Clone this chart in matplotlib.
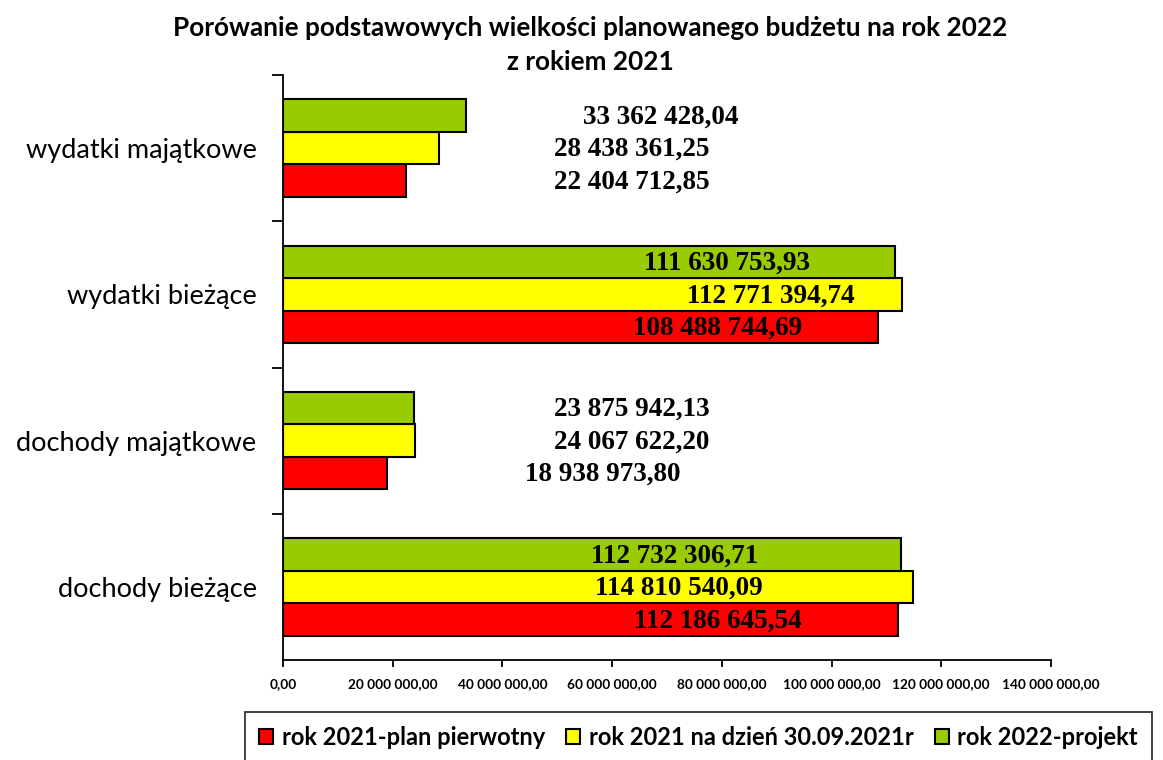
import matplotlib
matplotlib.use("Agg")
import matplotlib.pyplot as plt
from matplotlib.patches import Patch
import numpy as np

categories = ["dochody bieżące", "dochody majątkowe", "wydatki bieżące", "wydatki majątkowe"]
series_names = ["rok 2021-plan pierwotny", "rok 2021 na dzień 30.09.2021r", "rok 2022-projekt"]
plan_2021 = [112186645.54, 18938973.80, 108488744.69, 22404712.85]
stan_2021 = [114810540.09, 24067622.20, 112771394.74, 28438361.25]
projekt_2022 = [112732306.71, 23875942.13, 111630753.93, 33362428.04]
label_texts = [
    ["112 186 645,54", "18 938 973,80", "108 488 744,69", "22 404 712,85"],
    ["114 810 540,09", "24 067 622,20", "112 771 394,74", "28 438 361,25"],
    ["112 732 306,71", "23 875 942,13", "111 630 753,93", "33 362 428,04"],
]
xticks = [0, 20e6, 40e6, 60e6, 80e6, 100e6, 120e6, 140e6]
xtick_labels = ["0,00", "20 000 000,00", "40 000 000,00", "60 000 000,00",
                "80 000 000,00", "100 000 000,00", "120 000 000,00", "140 000 000,00"]

colors = ["#FF0000", "#FFFF00", "#99CC00"]
# label x positions (data coordinates), styling only
label_x = [
    [79.3e6, 58.3e6, 79.3e6, 63.6e6],
    [72.2e6, 63.6e6, 89.0e6, 63.6e6],
    [71.3e6, 63.6e6, 81.0e6, 68.9e6],
]

fig = plt.figure(figsize=(11.63, 7.6), dpi=100)
ax = fig.add_axes([283/1163, 1-660/760, (1051-283)/1163, (660-75)/760])

y = np.arange(len(categories))
h = 0.222
offsets = [-h, 0, h]
all_vals = [plan_2021, stan_2021, projekt_2022]
for i, vals in enumerate(all_vals):
    ax.barh(y + offsets[i], vals, height=h, color=colors[i], edgecolor="black",
            linewidth=1.5, zorder=3)
    for j, v in enumerate(vals):
        ax.text(label_x[i][j], y[j] + offsets[i] - 0.01, label_texts[i][j],
                ha="center", va="center", fontsize=19.5, fontweight="bold",
                family="Liberation Serif", zorder=4)

ax.set_xlim(0, 140e6)
ax.set_ylim(-0.5, 3.5)
for s in ["top", "right"]:
    ax.spines[s].set_visible(False)
ax.spines["left"].set_linewidth(1.3)
ax.spines["bottom"].set_linewidth(1.3)

ax.set_xticks(xticks)
ax.set_xticklabels(xtick_labels, fontsize=9.8, fontweight="bold", family="Lato")
ax.tick_params(axis="x", direction="out", length=5, width=1.3, pad=8)

ax.set_yticks(y)
ax.set_yticklabels(categories, fontsize=19.5, family="Lato")
ax.tick_params(axis="y", which="major", length=0, pad=19)
ax.set_yticks([0.5, 1.5, 2.5, 3.5], minor=True)
ax.tick_params(axis="y", which="minor", direction="out", length=8, width=1.3)

fig.text(590/1163, 1-28/760, "Porówanie podstawowych wielkości planowanego budżetu na rok 2022",
         ha="center", va="center", fontsize=18.8, fontweight="bold", family="Lato")
fig.text(590/1163, 1-62/760, "z rokiem 2021",
         ha="center", va="center", fontsize=18.8, fontweight="bold", family="Lato")

handles = [Patch(facecolor=c, edgecolor="black", linewidth=1.5) for c in colors]
leg = fig.legend(handles, series_names, loc="upper left",
                 bbox_to_anchor=(245/1163, 1-712/760), borderaxespad=0, ncol=3, frameon=True,
                 fancybox=False, handlelength=0.6, handleheight=0.6,
                 handletextpad=0.35, columnspacing=0.9, borderpad=0.6,
                 prop={"family": "Lato", "weight": "bold", "size": 17})
leg.get_frame().set_edgecolor("black")
leg.get_frame().set_linewidth(1.3)

fig.savefig("out.png", dpi=100)
